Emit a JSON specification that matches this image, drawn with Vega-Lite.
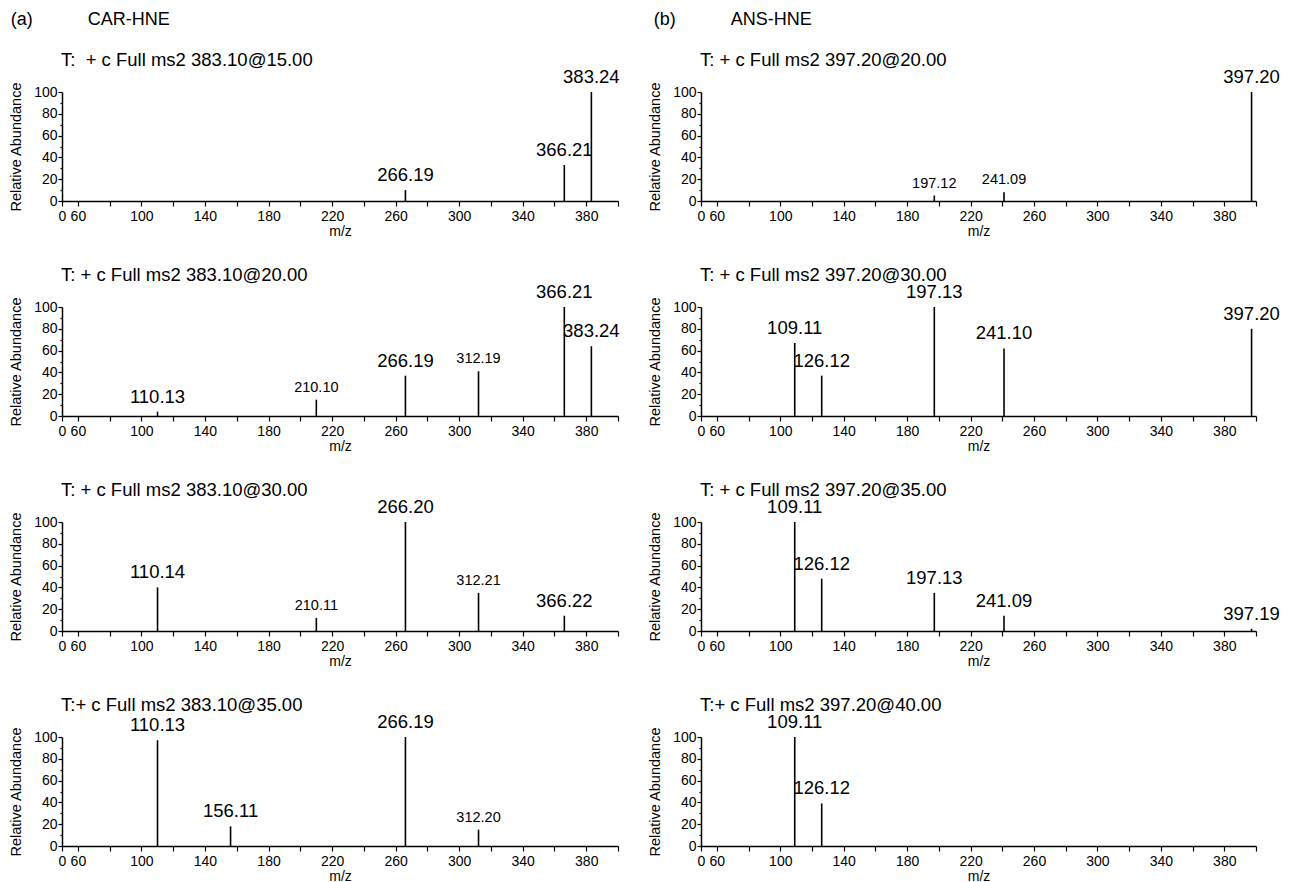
{
  "$schema": "https://vega.github.io/schema/vega-lite/v6.json",
  "background": "white",
  "padding": {"left": 8, "top": 10, "right": 0, "bottom": 0},
  "datasets": {
    "peaks": [
      {"p": "A1", "mz": 266.19, "ab": 10, "label": "266.19", "kind": "major"},
      {"p": "A1", "mz": 366.21, "ab": 33, "label": "366.21", "kind": "major"},
      {"p": "A1", "mz": 383.24, "ab": 100, "label": "383.24", "kind": "major"},
      {"p": "A2", "mz": 110.13, "ab": 4, "label": "110.13", "kind": "major"},
      {"p": "A2", "mz": 210.10, "ab": 15, "label": "210.10", "kind": "minor"},
      {"p": "A2", "mz": 266.19, "ab": 37, "label": "266.19", "kind": "major"},
      {"p": "A2", "mz": 312.19, "ab": 41, "label": "312.19", "kind": "minor"},
      {"p": "A2", "mz": 366.21, "ab": 100, "label": "366.21", "kind": "major"},
      {"p": "A2", "mz": 383.24, "ab": 64, "label": "383.24", "kind": "major"},
      {"p": "A3", "mz": 110.14, "ab": 40, "label": "110.14", "kind": "major"},
      {"p": "A3", "mz": 210.11, "ab": 12, "label": "210.11", "kind": "minor"},
      {"p": "A3", "mz": 266.20, "ab": 100, "label": "266.20", "kind": "major"},
      {"p": "A3", "mz": 312.21, "ab": 35, "label": "312.21", "kind": "minor"},
      {"p": "A3", "mz": 366.22, "ab": 14, "label": "366.22", "kind": "major"},
      {"p": "A4", "mz": 110.13, "ab": 97, "label": "110.13", "kind": "major"},
      {"p": "A4", "mz": 156.11, "ab": 18, "label": "156.11", "kind": "major"},
      {"p": "A4", "mz": 266.19, "ab": 100, "label": "266.19", "kind": "major"},
      {"p": "A4", "mz": 312.20, "ab": 15, "label": "312.20", "kind": "minor"},
      {"p": "B1", "mz": 197.12, "ab": 5, "label": "197.12", "kind": "minor"},
      {"p": "B1", "mz": 241.09, "ab": 8, "label": "241.09", "kind": "minor"},
      {"p": "B1", "mz": 397.20, "ab": 100, "label": "397.20", "kind": "major"},
      {"p": "B2", "mz": 109.11, "ab": 67, "label": "109.11", "kind": "major"},
      {"p": "B2", "mz": 126.12, "ab": 37, "label": "126.12", "kind": "major"},
      {"p": "B2", "mz": 197.13, "ab": 100, "label": "197.13", "kind": "major"},
      {"p": "B2", "mz": 241.10, "ab": 62, "label": "241.10", "kind": "major"},
      {"p": "B2", "mz": 397.20, "ab": 80, "label": "397.20", "kind": "major"},
      {"p": "B3", "mz": 109.11, "ab": 100, "label": "109.11", "kind": "major"},
      {"p": "B3", "mz": 126.12, "ab": 48, "label": "126.12", "kind": "major"},
      {"p": "B3", "mz": 197.13, "ab": 35, "label": "197.13", "kind": "major"},
      {"p": "B3", "mz": 241.09, "ab": 14, "label": "241.09", "kind": "major"},
      {"p": "B3", "mz": 397.19, "ab": 2, "label": "397.19", "kind": "major"},
      {"p": "B4", "mz": 109.11, "ab": 100, "label": "109.11", "kind": "major"},
      {"p": "B4", "mz": 126.12, "ab": 39, "label": "126.12", "kind": "major"}
    ]
  },
  "hconcat": [
    {
      "title": {"text": "(a)\u00a0\u00a0\u00a0\u00a0\u00a0\u00a0\u00a0\u00a0\u00a0\u00a0\u00a0CAR-HNE", "frame": "bounds", "fontSize": 18, "offset": 22, "dx": 2},
      "spacing": 27,
      "vconcat": [
        {"width": 556, "height": 109, "title": "T: \u00a0+ c Full ms2 383.10@15.00", "data": {"name": "peaks"}, "transform": [{"filter": "datum.p === 'A1'"}],
         "resolve": {"axis": {"x": "independent", "y": "independent"}},
         "layer": [
          {"mark": {"type": "rule", "strokeWidth": 1.6, "color": "black"},
           "encoding": {
             "x": {"field": "mz", "type": "quantitative", "scale": {"domain": [50, 400], "nice": false, "zero": false}, "axis": {"orient": "bottom", "title": "m/z", "labelPadding": 3, "titlePadding": 1, "values": [50, 60, 100, 140, 180, 220, 260, 300, 340, 380], "labelExpr": "datum.value == 50 ? '0' : datum.label"}},
             "y": {"field": "ab", "type": "quantitative", "scale": {"domain": [0, 100], "nice": false}, "axis": {"orient": "left", "title": "Relative Abundance", "values": [0, 20, 40, 60, 80, 100]}},
             "y2": {"datum": 0}}},
          {"transform": [{"filter": "datum.label != null"}],
           "mark": {"type": "text", "baseline": "bottom", "dy": -5, "font": "Liberation Sans", "color": "black"},
           "encoding": {
             "x": {"field": "mz", "type": "quantitative", "axis": {"orient": "bottom", "title": null, "labels": false, "domain": false, "values": [80, 120, 160, 200, 240, 280, 320, 360, 400]}},
             "y": {"field": "ab", "type": "quantitative", "axis": {"orient": "left", "title": null, "labels": false, "domain": false, "tickSize": 2, "values": [10, 30, 50, 70, 90]}},
             "text": {"field": "label"},
             "size": {"field": "kind", "type": "nominal", "scale": {"domain": ["major", "minor"], "range": [18.5, 14.5]}, "legend": null}}}
         ]},
        {"width": 556, "height": 109, "title": "T: + c Full ms2 383.10@20.00", "data": {"name": "peaks"}, "transform": [{"filter": "datum.p === 'A2'"}],
         "resolve": {"axis": {"x": "independent", "y": "independent"}},
         "layer": [
          {"mark": {"type": "rule", "strokeWidth": 1.6, "color": "black"},
           "encoding": {
             "x": {"field": "mz", "type": "quantitative", "scale": {"domain": [50, 400], "nice": false, "zero": false}, "axis": {"orient": "bottom", "title": "m/z", "labelPadding": 3, "titlePadding": 1, "values": [50, 60, 100, 140, 180, 220, 260, 300, 340, 380], "labelExpr": "datum.value == 50 ? '0' : datum.label"}},
             "y": {"field": "ab", "type": "quantitative", "scale": {"domain": [0, 100], "nice": false}, "axis": {"orient": "left", "title": "Relative Abundance", "values": [0, 20, 40, 60, 80, 100]}},
             "y2": {"datum": 0}}},
          {"transform": [{"filter": "datum.label != null"}],
           "mark": {"type": "text", "baseline": "bottom", "dy": -5, "font": "Liberation Sans", "color": "black"},
           "encoding": {
             "x": {"field": "mz", "type": "quantitative", "axis": {"orient": "bottom", "title": null, "labels": false, "domain": false, "values": [80, 120, 160, 200, 240, 280, 320, 360, 400]}},
             "y": {"field": "ab", "type": "quantitative", "axis": {"orient": "left", "title": null, "labels": false, "domain": false, "tickSize": 2, "values": [10, 30, 50, 70, 90]}},
             "text": {"field": "label"},
             "size": {"field": "kind", "type": "nominal", "scale": {"domain": ["major", "minor"], "range": [18.5, 14.5]}, "legend": null}}}
         ]},
        {"width": 556, "height": 109, "title": "T: + c Full ms2 383.10@30.00", "data": {"name": "peaks"}, "transform": [{"filter": "datum.p === 'A3'"}],
         "resolve": {"axis": {"x": "independent", "y": "independent"}},
         "layer": [
          {"mark": {"type": "rule", "strokeWidth": 1.6, "color": "black"},
           "encoding": {
             "x": {"field": "mz", "type": "quantitative", "scale": {"domain": [50, 400], "nice": false, "zero": false}, "axis": {"orient": "bottom", "title": "m/z", "labelPadding": 3, "titlePadding": 1, "values": [50, 60, 100, 140, 180, 220, 260, 300, 340, 380], "labelExpr": "datum.value == 50 ? '0' : datum.label"}},
             "y": {"field": "ab", "type": "quantitative", "scale": {"domain": [0, 100], "nice": false}, "axis": {"orient": "left", "title": "Relative Abundance", "values": [0, 20, 40, 60, 80, 100]}},
             "y2": {"datum": 0}}},
          {"transform": [{"filter": "datum.label != null"}],
           "mark": {"type": "text", "baseline": "bottom", "dy": -5, "font": "Liberation Sans", "color": "black"},
           "encoding": {
             "x": {"field": "mz", "type": "quantitative", "axis": {"orient": "bottom", "title": null, "labels": false, "domain": false, "values": [80, 120, 160, 200, 240, 280, 320, 360, 400]}},
             "y": {"field": "ab", "type": "quantitative", "axis": {"orient": "left", "title": null, "labels": false, "domain": false, "tickSize": 2, "values": [10, 30, 50, 70, 90]}},
             "text": {"field": "label"},
             "size": {"field": "kind", "type": "nominal", "scale": {"domain": ["major", "minor"], "range": [18.5, 14.5]}, "legend": null}}}
         ]},
        {"width": 556, "height": 109, "title": "T:+ c Full ms2 383.10@35.00", "data": {"name": "peaks"}, "transform": [{"filter": "datum.p === 'A4'"}],
         "resolve": {"axis": {"x": "independent", "y": "independent"}},
         "layer": [
          {"mark": {"type": "rule", "strokeWidth": 1.6, "color": "black"},
           "encoding": {
             "x": {"field": "mz", "type": "quantitative", "scale": {"domain": [50, 400], "nice": false, "zero": false}, "axis": {"orient": "bottom", "title": "m/z", "labelPadding": 3, "titlePadding": 1, "values": [50, 60, 100, 140, 180, 220, 260, 300, 340, 380], "labelExpr": "datum.value == 50 ? '0' : datum.label"}},
             "y": {"field": "ab", "type": "quantitative", "scale": {"domain": [0, 100], "nice": false}, "axis": {"orient": "left", "title": "Relative Abundance", "values": [0, 20, 40, 60, 80, 100]}},
             "y2": {"datum": 0}}},
          {"transform": [{"filter": "datum.label != null"}],
           "mark": {"type": "text", "baseline": "bottom", "dy": -5, "font": "Liberation Sans", "color": "black"},
           "encoding": {
             "x": {"field": "mz", "type": "quantitative", "axis": {"orient": "bottom", "title": null, "labels": false, "domain": false, "values": [80, 120, 160, 200, 240, 280, 320, 360, 400]}},
             "y": {"field": "ab", "type": "quantitative", "axis": {"orient": "left", "title": null, "labels": false, "domain": false, "tickSize": 2, "values": [10, 30, 50, 70, 90]}},
             "text": {"field": "label"},
             "size": {"field": "kind", "type": "nominal", "scale": {"domain": ["major", "minor"], "range": [18.5, 14.5]}, "legend": null}}}
         ]}
      ]
    },
    {
      "title": {"text": "(b)\u00a0\u00a0\u00a0\u00a0\u00a0\u00a0\u00a0\u00a0\u00a0\u00a0\u00a0ANS-HNE", "frame": "bounds", "fontSize": 18, "offset": 22, "dx": 6},
      "spacing": 27,
      "vconcat": [
        {"width": 555, "height": 109, "title": "T: + c Full ms2 397.20@20.00", "data": {"name": "peaks"}, "transform": [{"filter": "datum.p === 'B1'"}],
         "resolve": {"axis": {"x": "independent", "y": "independent"}},
         "layer": [
          {"mark": {"type": "rule", "strokeWidth": 1.6, "color": "black"},
           "encoding": {
             "x": {"field": "mz", "type": "quantitative", "scale": {"domain": [50, 400], "nice": false, "zero": false}, "axis": {"orient": "bottom", "title": "m/z", "labelPadding": 3, "titlePadding": 1, "values": [50, 60, 100, 140, 180, 220, 260, 300, 340, 380], "labelExpr": "datum.value == 50 ? '0' : datum.label"}},
             "y": {"field": "ab", "type": "quantitative", "scale": {"domain": [0, 100], "nice": false}, "axis": {"orient": "left", "title": "Relative Abundance", "values": [0, 20, 40, 60, 80, 100]}},
             "y2": {"datum": 0}}},
          {"transform": [{"filter": "datum.label != null"}],
           "mark": {"type": "text", "baseline": "bottom", "dy": -5, "font": "Liberation Sans", "color": "black"},
           "encoding": {
             "x": {"field": "mz", "type": "quantitative", "axis": {"orient": "bottom", "title": null, "labels": false, "domain": false, "values": [80, 120, 160, 200, 240, 280, 320, 360, 400]}},
             "y": {"field": "ab", "type": "quantitative", "axis": {"orient": "left", "title": null, "labels": false, "domain": false, "tickSize": 2, "values": [10, 30, 50, 70, 90]}},
             "text": {"field": "label"},
             "size": {"field": "kind", "type": "nominal", "scale": {"domain": ["major", "minor"], "range": [18.5, 14.5]}, "legend": null}}}
         ]},
        {"width": 555, "height": 109, "title": "T: + c Full ms2 397.20@30.00", "data": {"name": "peaks"}, "transform": [{"filter": "datum.p === 'B2'"}],
         "resolve": {"axis": {"x": "independent", "y": "independent"}},
         "layer": [
          {"mark": {"type": "rule", "strokeWidth": 1.6, "color": "black"},
           "encoding": {
             "x": {"field": "mz", "type": "quantitative", "scale": {"domain": [50, 400], "nice": false, "zero": false}, "axis": {"orient": "bottom", "title": "m/z", "labelPadding": 3, "titlePadding": 1, "values": [50, 60, 100, 140, 180, 220, 260, 300, 340, 380], "labelExpr": "datum.value == 50 ? '0' : datum.label"}},
             "y": {"field": "ab", "type": "quantitative", "scale": {"domain": [0, 100], "nice": false}, "axis": {"orient": "left", "title": "Relative Abundance", "values": [0, 20, 40, 60, 80, 100]}},
             "y2": {"datum": 0}}},
          {"transform": [{"filter": "datum.label != null"}],
           "mark": {"type": "text", "baseline": "bottom", "dy": -5, "font": "Liberation Sans", "color": "black"},
           "encoding": {
             "x": {"field": "mz", "type": "quantitative", "axis": {"orient": "bottom", "title": null, "labels": false, "domain": false, "values": [80, 120, 160, 200, 240, 280, 320, 360, 400]}},
             "y": {"field": "ab", "type": "quantitative", "axis": {"orient": "left", "title": null, "labels": false, "domain": false, "tickSize": 2, "values": [10, 30, 50, 70, 90]}},
             "text": {"field": "label"},
             "size": {"field": "kind", "type": "nominal", "scale": {"domain": ["major", "minor"], "range": [18.5, 14.5]}, "legend": null}}}
         ]},
        {"width": 555, "height": 109, "title": "T: + c Full ms2 397.20@35.00", "data": {"name": "peaks"}, "transform": [{"filter": "datum.p === 'B3'"}],
         "resolve": {"axis": {"x": "independent", "y": "independent"}},
         "layer": [
          {"mark": {"type": "rule", "strokeWidth": 1.6, "color": "black"},
           "encoding": {
             "x": {"field": "mz", "type": "quantitative", "scale": {"domain": [50, 400], "nice": false, "zero": false}, "axis": {"orient": "bottom", "title": "m/z", "labelPadding": 3, "titlePadding": 1, "values": [50, 60, 100, 140, 180, 220, 260, 300, 340, 380], "labelExpr": "datum.value == 50 ? '0' : datum.label"}},
             "y": {"field": "ab", "type": "quantitative", "scale": {"domain": [0, 100], "nice": false}, "axis": {"orient": "left", "title": "Relative Abundance", "values": [0, 20, 40, 60, 80, 100]}},
             "y2": {"datum": 0}}},
          {"transform": [{"filter": "datum.label != null"}],
           "mark": {"type": "text", "baseline": "bottom", "dy": -5, "font": "Liberation Sans", "color": "black"},
           "encoding": {
             "x": {"field": "mz", "type": "quantitative", "axis": {"orient": "bottom", "title": null, "labels": false, "domain": false, "values": [80, 120, 160, 200, 240, 280, 320, 360, 400]}},
             "y": {"field": "ab", "type": "quantitative", "axis": {"orient": "left", "title": null, "labels": false, "domain": false, "tickSize": 2, "values": [10, 30, 50, 70, 90]}},
             "text": {"field": "label"},
             "size": {"field": "kind", "type": "nominal", "scale": {"domain": ["major", "minor"], "range": [18.5, 14.5]}, "legend": null}}}
         ]},
        {"width": 555, "height": 109, "title": "T:+ c Full ms2 397.20@40.00", "data": {"name": "peaks"}, "transform": [{"filter": "datum.p === 'B4'"}],
         "resolve": {"axis": {"x": "independent", "y": "independent"}},
         "layer": [
          {"mark": {"type": "rule", "strokeWidth": 1.6, "color": "black"},
           "encoding": {
             "x": {"field": "mz", "type": "quantitative", "scale": {"domain": [50, 400], "nice": false, "zero": false}, "axis": {"orient": "bottom", "title": "m/z", "labelPadding": 3, "titlePadding": 1, "values": [50, 60, 100, 140, 180, 220, 260, 300, 340, 380], "labelExpr": "datum.value == 50 ? '0' : datum.label"}},
             "y": {"field": "ab", "type": "quantitative", "scale": {"domain": [0, 100], "nice": false}, "axis": {"orient": "left", "title": "Relative Abundance", "values": [0, 20, 40, 60, 80, 100]}},
             "y2": {"datum": 0}}},
          {"transform": [{"filter": "datum.label != null"}],
           "mark": {"type": "text", "baseline": "bottom", "dy": -5, "font": "Liberation Sans", "color": "black"},
           "encoding": {
             "x": {"field": "mz", "type": "quantitative", "axis": {"orient": "bottom", "title": null, "labels": false, "domain": false, "values": [80, 120, 160, 200, 240, 280, 320, 360, 400]}},
             "y": {"field": "ab", "type": "quantitative", "axis": {"orient": "left", "title": null, "labels": false, "domain": false, "tickSize": 2, "values": [10, 30, 50, 70, 90]}},
             "text": {"field": "label"},
             "size": {"field": "kind", "type": "nominal", "scale": {"domain": ["major", "minor"], "range": [18.5, 14.5]}, "legend": null}}}
         ]}
      ]
    }
  ],
  "spacing": 27,
  "config": {
    "view": {"stroke": null},
    "font": "Liberation Sans",
    "title": {"font": "Liberation Sans", "fontSize": 18.5, "fontWeight": "normal", "anchor": "start", "frame": "group", "color": "black", "offset": -1, "dx": -1},
    "axis": {"grid": false, "domainColor": "black", "domainWidth": 1.5, "tickColor": "black", "tickWidth": 1.2, "labelColor": "black", "labelFont": "Liberation Sans", "labelFontSize": 14, "titleFont": "Liberation Sans", "titleFontWeight": "normal", "titleColor": "black", "labelOverlap": false, "labelFlush": false},
    "axisX": {"tickSize": 5, "titleFontSize": 14},
    "axisY": {"tickSize": 4, "labelPadding": 1, "titleFontSize": 14.5, "titlePadding": 10}
  }
}
